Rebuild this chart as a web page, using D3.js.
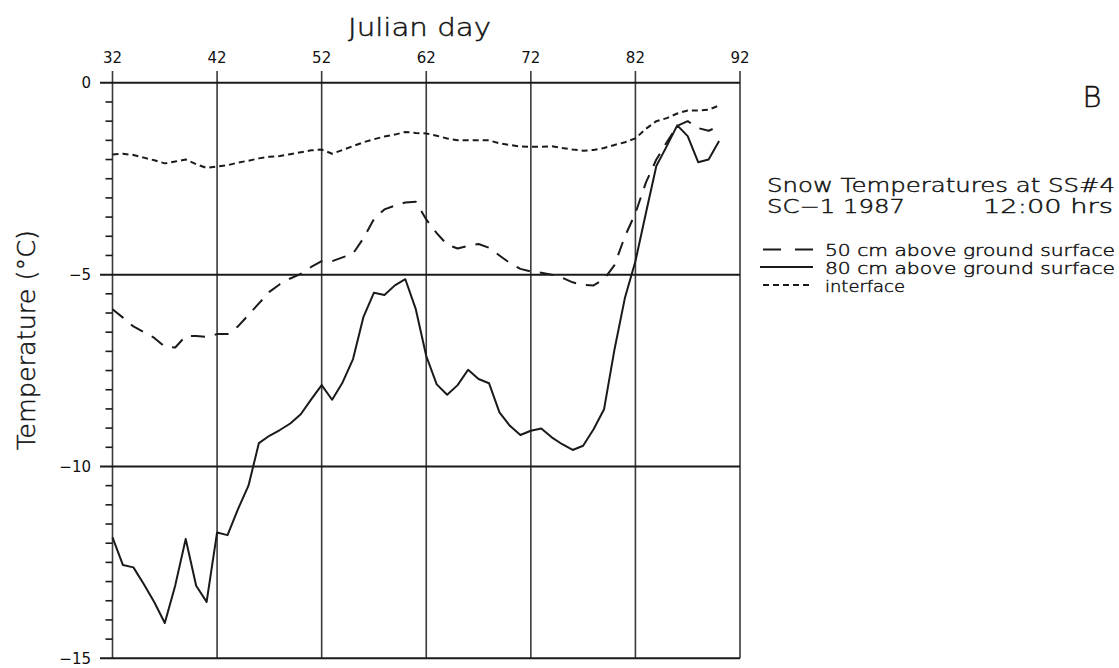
<!DOCTYPE html>
<html>
<head>
<meta charset="utf-8">
<script src="https://cdn.jsdelivr.net/npm/d3@7"></script>
<style>
  html, body { margin: 0; padding: 0; background: #fff; }
  svg { display: block; }
  text { font-family: "DejaVu Sans", "Open Sans", sans-serif; fill: #111; }
  .thin { font-weight: 200; stroke: #111; stroke-width: 0.45px; }
</style>
</head>
<body>
<svg id="chart" width="1119" height="668"></svg>
<script>
// Julian days of the noon readings
const days = [32, 33, 34, 35, 36, 37, 38, 39, 40, 41, 42, 43, 44, 45, 46, 47, 48, 49, 50,
  51, 52, 53, 54, 55, 56, 57, 58, 59, 60, 61, 62, 63, 64, 65, 66, 67, 68, 69, 70,
  71, 72, 73, 74, 75, 76, 77, 78, 79, 80, 81, 82, 83, 84, 85, 86, 87, 88, 89, 90];

// Snow temperature (°C) 50 cm above ground surface
const temp50 = [-5.90, -6.12, -6.35, -6.50, -6.65, -6.88, -6.90, -6.60, -6.60, -6.62,
  -6.55, -6.55, -6.35, -6.05, -5.75, -5.45, -5.25, -5.10, -4.98, -4.80,
  -4.65, -4.65, -4.55, -4.45, -4.05, -3.55, -3.30, -3.20, -3.12, -3.10,
  -3.56, -3.92, -4.22, -4.32, -4.25, -4.20, -4.30, -4.50, -4.70, -4.85,
  -4.92, -4.95, -5.00, -5.08, -5.20, -5.27, -5.28, -5.12, -4.75, -4.00,
  -3.40, -2.60, -2.00, -1.55, -1.12, -1.00, -1.18, -1.25, -1.13];

// Snow temperature (°C) 80 cm above ground surface
const temp80 = [-11.85, -12.57, -12.63, -13.07, -13.54, -14.08, -13.10, -11.89, -13.11, -13.53,
  -11.72, -11.79, -11.11, -10.50, -9.39, -9.20, -9.05, -8.88, -8.64, -8.25,
  -7.88, -8.26, -7.81, -7.20, -6.10, -5.47, -5.53, -5.28, -5.12, -5.90,
  -7.12, -7.86, -8.13, -7.88, -7.48, -7.72, -7.83, -8.59, -8.94, -9.18,
  -9.07, -9.01, -9.24, -9.42, -9.57, -9.46, -9.03, -8.51, -6.95, -5.60,
  -4.65, -3.40, -2.17, -1.65, -1.11, -1.39, -2.07, -2.00, -1.52];

// Snow / ground interface temperature (°C)
const tempInterface = [-1.87, -1.85, -1.88, -1.95, -2.02, -2.10, -2.05, -2.00, -2.12, -2.22,
  -2.18, -2.15, -2.08, -2.03, -1.97, -1.93, -1.91, -1.86, -1.81, -1.76,
  -1.74, -1.85, -1.75, -1.65, -1.55, -1.47, -1.40, -1.35, -1.28, -1.31,
  -1.32, -1.38, -1.45, -1.50, -1.50, -1.50, -1.50, -1.58, -1.62, -1.66,
  -1.67, -1.67, -1.65, -1.70, -1.74, -1.77, -1.75, -1.70, -1.62, -1.55,
  -1.45, -1.20, -1.00, -0.92, -0.80, -0.72, -0.72, -0.70, -0.59];

const xTicks = [32, 42, 52, 62, 72, 82, 92];
const yTicks = [0, -5, -10, -15];

const legendLabels = ["50 cm above ground surface", "80 cm above ground surface", "interface"];
const legendDashes = ["18,14", null, "6,4"];

const svg = d3.select("#chart");
const ink = "#1a1a1a";

const x = d3.scaleLinear().domain([32, 92]).range([112.5, 740]);
const y = d3.scaleLinear().domain([-15, 0]).range([658.3, 82.8]);

// vertical grid lines, poking above the top edge as tick marks
svg.append("g")
  .selectAll("line")
  .data(xTicks)
  .join("line")
  .attr("x1", d => x(d)).attr("x2", d => x(d))
  .attr("y1", 71).attr("y2", y(-15))
  .attr("stroke", "#3a3a3a").attr("stroke-width", 1.6);

// horizontal grid lines every 5 °C, extending left past the axis
svg.append("g")
  .selectAll("line")
  .data(yTicks)
  .join("line")
  .attr("x1", 100).attr("x2", x(92))
  .attr("y1", d => y(d)).attr("y2", d => y(d))
  .attr("stroke", ink).attr("stroke-width", 2);

// minor ticks every 0.5 °C on the left axis
const minor = d3.range(0, 31).map(i => -i * 0.5).filter(v => v % 5 !== 0);
svg.append("g")
  .selectAll("line")
  .data(minor)
  .join("line")
  .attr("x1", x(32) - 7).attr("x2", x(32))
  .attr("y1", d => y(d)).attr("y2", d => y(d))
  .attr("stroke", ink).attr("stroke-width", 1.6);

// top tick labels
svg.append("g")
  .selectAll("text")
  .data(xTicks)
  .join("text")
  .attr("x", d => x(d)).attr("y", 63)
  .attr("text-anchor", "middle")
  .attr("font-size", 15)
  .text(d => d);

// left tick labels
svg.append("g")
  .selectAll("text")
  .data(yTicks)
  .join("text")
  .attr("x", 91).attr("y", d => y(d) + 5.5)
  .attr("text-anchor", "end")
  .attr("font-size", 15)
  .text(d => d === 0 ? "0" : "\u2212" + Math.abs(d));

// axis titles
svg.append("text")
  .attr("class", "thin")
  .attr("x", 348).attr("y", 36)
  .attr("font-size", 25)
  .attr("textLength", 143).attr("lengthAdjust", "spacingAndGlyphs")
  .text("Julian  day");

svg.append("text")
  .attr("class", "thin")
  .attr("transform", "translate(35,450) rotate(-90)")
  .attr("font-size", 25)
  .attr("textLength", 220).attr("lengthAdjust", "spacingAndGlyphs")
  .text("Temperature  (°C)");

// data series
const line = d3.line()
  .x((d, i) => x(days[i]))
  .y(d => y(d));

const series = [
  { values: temp50, dash: "14,10" },
  { values: temp80, dash: null },
  { values: tempInterface, dash: "6,4" }
];

svg.append("g")
  .selectAll("path")
  .data(series)
  .join("path")
  .attr("d", d => line(d.values))
  .attr("fill", "none")
  .attr("stroke", ink)
  .attr("stroke-width", 2)
  .attr("stroke-linejoin", "round")
  .attr("stroke-dasharray", d => d.dash);

// panel letter
svg.append("text")
  .attr("class", "thin")
  .attr("x", 1092).attr("y", 107)
  .attr("text-anchor", "middle")
  .attr("font-size", 29)
  .text("B");

// title block
svg.append("text")
  .attr("class", "thin")
  .attr("x", 767).attr("y", 192)
  .attr("font-size", 19)
  .attr("textLength", 348).attr("lengthAdjust", "spacingAndGlyphs")
  .text("Snow Temperatures at SS#4");

svg.append("text")
  .attr("class", "thin")
  .attr("x", 767).attr("y", 213)
  .attr("font-size", 19)
  .attr("textLength", 138).attr("lengthAdjust", "spacingAndGlyphs")
  .text("SC\u22121 1987");

svg.append("text")
  .attr("class", "thin")
  .attr("x", 983).attr("y", 213)
  .attr("font-size", 19)
  .attr("textLength", 130).attr("lengthAdjust", "spacingAndGlyphs")
  .text("12:00 hrs");

// legend
const legend = svg.append("g")
  .selectAll("g")
  .data(legendLabels)
  .join("g")
  .attr("transform", (d, i) => `translate(0,${[256, 273.5, 291.5][i]})`);

legend.append("line")
  .attr("x1", (d, i) => i === 1 ? 760 : 763).attr("x2", 813)
  .attr("y1", -6.5).attr("y2", -6.5)
  .attr("stroke", ink).attr("stroke-width", 1.8)
  .attr("stroke-dasharray", (d, i) => legendDashes[i]);

legend.append("text")
  .attr("class", "thin")
  .attr("x", 825).attr("y", 0)
  .attr("font-size", 16)
  .attr("textLength", (d, i) => i === 2 ? 80 : 290)
  .attr("lengthAdjust", "spacingAndGlyphs")
  .text(d => d);
</script>
</body>
</html>
